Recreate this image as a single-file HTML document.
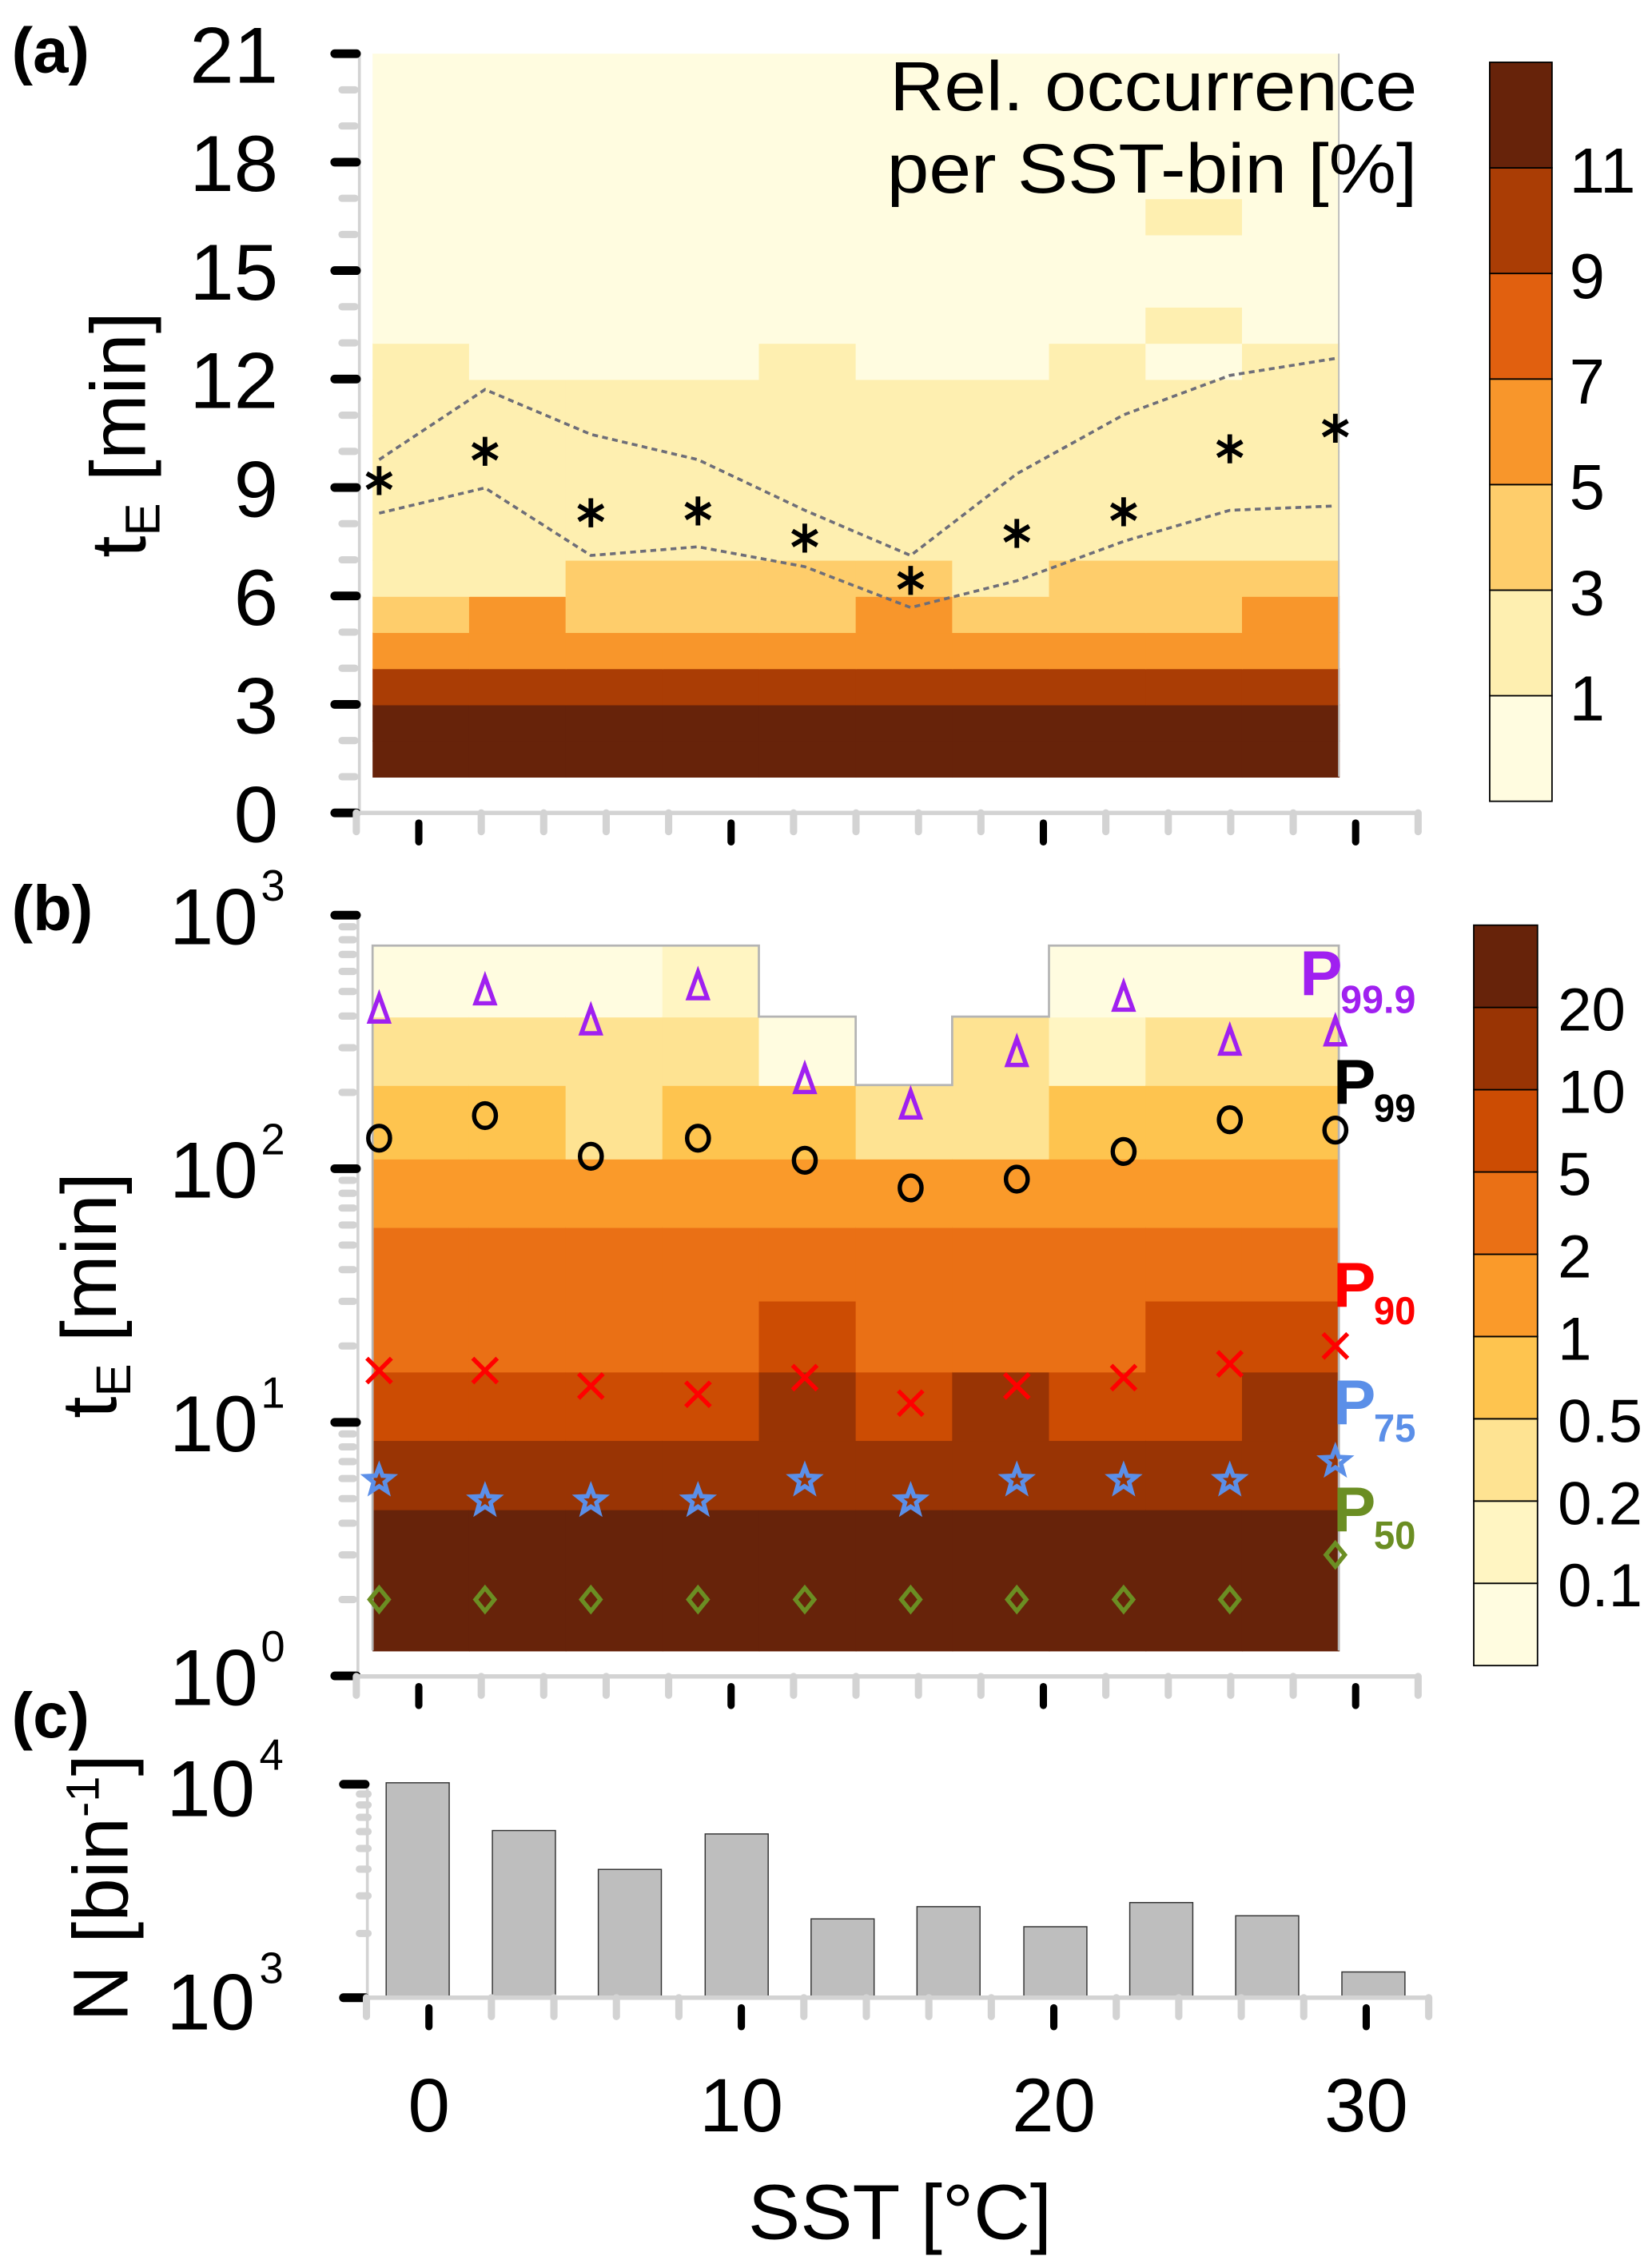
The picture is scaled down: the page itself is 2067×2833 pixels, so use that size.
<!DOCTYPE html>
<html><head><meta charset="utf-8"><title>SST occurrence chart</title>
<style>
html,body{margin:0;padding:0;background:#fff;}
svg{display:block;font-family:"Liberation Sans",sans-serif;}
</style></head>
<body>
<svg id="fig" xmlns="http://www.w3.org/2000/svg" width="2067" height="2833" viewBox="0 0 1140 1562.5" preserveAspectRatio="none"></svg>
<script>
// ---------- DATA ----------
const binEdgesSST = [-1.48,1.61,4.70,7.80,10.89,13.99,17.08,20.18,23.27,26.36,29.46];
const occA = [
 [15,15,15,15,15,15,15,15,15,15],
 [15,15,15,15,15,15,15,15,15,15],
 [10,10,10,10,10,10,10,10,10,10],
 [6,6,6,6,6,6,6,6,6,6],
 [4,6,4,4,4,6,4,4,4,6],
 [2,2,4,4,4,4,2,4,4,4],
 [2,2,2,2,2,2,2,2,2,2],
 [2,2,2,2,2,2,2,2,2,2],
 [2,2,2,2,2,2,2,2,2,2],
 [2,2,2,2,2,2,2,2,2,2],
 [2,2,2,2,2,2,2,2,2,2],
 [2,0.5,0.5,0.5,2,0.5,0.5,2,0.5,2],
 [0.5,0.5,0.5,0.5,0.5,0.5,0.5,0.5,2,0.5],
 [0.5,0.5,0.5,0.5,0.5,0.5,0.5,0.5,0.5,0.5],
 [0.5,0.5,0.5,0.5,0.5,0.5,0.5,0.5,0.5,0.5],
 [0.5,0.5,0.5,0.5,0.5,0.5,0.5,0.5,2,0.5],
 [0.5,0.5,0.5,0.5,0.5,0.5,0.5,0.5,0.5,0.5],
 [0.5,0.5,0.5,0.5,0.5,0.5,0.5,0.5,0.5,0.5],
 [0.5,0.5,0.5,0.5,0.5,0.5,0.5,0.5,0.5,0.5],
 [0.5,0.5,0.5,0.5,0.5,0.5,0.5,0.5,0.5,0.5]
];
const markerSST = [-1.27,2.12,5.51,8.94,12.36,15.75,19.15,22.57,25.97,29.35];
const meanTE = [9.19,10.0,8.3,8.35,7.6,6.43,7.73,8.33,10.07,10.64];
const upperTE = [9.77,11.71,10.47,9.77,8.37,7.12,9.38,11.01,12.1,12.57];
const lowerTE = [8.29,8.99,7.12,7.36,6.81,5.68,6.42,7.51,8.37,8.49];
const classA = [1,3,5,7,9,11];
const colorsA = ['#FFFCE0','#FEEFB0','#FECD6B','#F8962B','#E1600F','#AA3D05','#67230A'];
const yTicksA = [0,3,6,9,12,15,18,21];

const rowEdgesLogB = [0.10,0.657,0.93,1.2,1.48,1.77,2.04,2.33,2.6,2.88];
const occB = [
 [30,30,30,30,30,30,30,30,30,30],
 [15,15,15,15,15,15,15,15,15,15],
 [7,7,7,7,15,7,15,7,7,15],
 [3,3,3,3,7,3,3,3,7,7],
 [3,3,3,3,3,3,3,3,3,3],
 [1.5,1.5,1.5,1.5,1.5,1.5,1.5,1.5,1.5,1.5],
 [0.7,0.7,0.35,0.7,0.7,0.35,0.35,0.7,0.7,0.7],
 [0.35,0.35,0.35,0.35,0.08,null,0.35,0.15,0.35,0.35],
 [0.08,0.08,0.08,0.15,null,null,null,0.08,0.08,0.08]
];
const p999 = [423,499,380,523,223,177,285,471,316,344];
const p99 = [132,162,112,132,108,84,91,117,156,142];
const p90 = [16,16,13.9,12.9,15,11.9,13.9,15,17,20];
const p75 = [5.9,4.9,4.9,4.9,5.9,4.9,5.9,5.9,5.9,7];
const p50 = [2,2,2,2,2,2,2,2,2,3];
const classB = [0.1,0.2,0.5,1,2,5,10,20];
const classBLabels = ['0.1','0.2','0.5','1','2','5','10','20'];
const colorsB = ['#FFFCE0','#FFF5C2','#FEE392','#FEC44F','#FA9A2A','#EA7015','#CC4C03','#993404','#67230A'];

const barSST = [-0.36,3.04,6.43,9.85,13.24,16.63,20.05,23.44,26.83,30.23];
const counts = [10160,6070,3990,5850,2340,2670,2150,2790,2420,1320];
const xTickLabels = [0,10,20,30];

// ---------- HELPERS ----------
const svg = document.getElementById('fig');
const NS = 'http://www.w3.org/2000/svg';
function mk(tag, attrs, parent){
  const e = document.createElementNS(NS, tag);
  for (const k in attrs) e.setAttribute(k, attrs[k]);
  (parent||svg).appendChild(e);
  return e;
}
function txt(str, attrs, parent){ const t = mk('text', attrs, parent); t.textContent = str; return t; }

const xA = v => 289 + 21.55*v;
const xC = v => 296 + 21.56*v;
const yA = v => 561 - 24.95*v;
const yBlog = l => 1156.6 - 175*l;
const yB = v => yBlog(Math.log10(v));
const yC = v => 1378.7 - 147.3*(Math.log10(v)-3);
function classColor(v, th, cols){ let i=0; while(i<th.length && v>=th[i]) i++; return cols[i]; }

// ---------- PANEL A ----------
const gA = mk('g', {});


for (let r=0;r<occA.length;r++){
  for (let b=0;b<10;b++){
    const x0=xA(binEdgesSST[b]), x1=xA(binEdgesSST[b+1]);
    const rc = mk('rect',{x:x0,y:yA(r+2),width:x1-x0+0.6,height:yA(r+1)-yA(r+2)+0.6,fill:classColor(occA[r][b],classA,colorsA)},gA);
    
    
  }
}
mk('line',{x1:xA(binEdgesSST[10]),x2:xA(binEdgesSST[10]),y1:yA(21),y2:yA(1),stroke:'#bbb','stroke-width':1},gA);
function poly(arr, name){
  const pts = arr.map((v,i)=>xA(markerSST[i])+','+yA(v)).join(' ');
  const p = mk('polyline',{points:pts,fill:'none',stroke:'#6e6e78','stroke-width':2,'stroke-dasharray':'4,3'},gA);
  
  
}
poly(upperTE,'upper-dashed-line');
poly(lowerTE,'lower-dashed-line');
meanTE.forEach((v,i)=>{
  const cx=xA(markerSST[i]), cy=yA(v), s=10;
  const g = mk('g',{stroke:'#000','stroke-width':3.2},gA);
  
  
  mk('line',{x1:cx,y1:cy-s,x2:cx,y2:cy+s},g);
  mk('line',{x1:cx-s*0.85,y1:cy-s*0.5,x2:cx+s*0.85,y2:cy+s*0.5},g);
  mk('line',{x1:cx-s*0.85,y1:cy+s*0.5,x2:cx+s*0.85,y2:cy-s*0.5},g);
});
function xAxis(y, xf, x0, x1, name){
  const g = mk('g',{});
  
  
  mk('line',{x1:x0,x2:x1,y1:y,y2:y,stroke:'#d3d3d3','stroke-width':3},g);
  for (let v=-2; v<=32; v+=2){
    if (v%10===0) continue;
    mk('line',{x1:xf(v),x2:xf(v),y1:y,y2:y+13,stroke:'#d3d3d3','stroke-width':5,'stroke-linecap':'round'},g);
  }
  xTickLabels.forEach(v=>{
    mk('line',{x1:xf(v),x2:xf(v),y1:y+7,y2:y+20,stroke:'#000','stroke-width':5,'stroke-linecap':'round'},g);
  });
}
function yAxisLine(x, y0, y1, g){ mk('line',{x1:x,x2:x,y1:y0,y2:y1,stroke:'#d3d3d3','stroke-width':2},g); }
const gyA = mk('g',{});


yAxisLine(248, yA(21), yA(0), gyA);
for (let v=0; v<=21; v++){
  if (v%3===0) continue;
  mk('line',{x1:236,x2:245,y1:yA(v),y2:yA(v),stroke:'#d3d3d3','stroke-width':5,'stroke-linecap':'round'},gyA);
}
yTicksA.forEach(v=>{
  mk('line',{x1:231,x2:246,y1:yA(v),y2:yA(v),stroke:'#000','stroke-width':6,'stroke-linecap':'round'},gyA);
  const t = txt(String(v),{x:192,y:yA(v)+20,'font-size':55,'text-anchor':'end',fill:'#000'},gyA);
  
  
});
xAxis(561, xA, 248, 978, 'x-axis-a');
let t;
t = txt('Rel. occurrence',{x:978,y:76,'font-size':48,'text-anchor':'end',textLength:364,lengthAdjust:'spacingAndGlyphs'});
 
t = txt('per SST-bin [%]',{x:978,y:133,'font-size':48,'text-anchor':'end',textLength:366,lengthAdjust:'spacingAndGlyphs'});
 

const cbA = mk('g',{});


const cbAh = (553-43)/colorsA.length;
colorsA.forEach((c,i)=>{
  mk('rect',{x:1028,y:553-(i+1)*cbAh,width:43,height:cbAh,fill:c,stroke:'#000','stroke-width':1},cbA);
});
classA.forEach((v,i)=>{
  const tt = txt(String(v),{x:1083,y:553-(i+1)*cbAh+17,'font-size':44},cbA);
  
  
});

// ---------- PANEL B ----------
const gB = mk('g',{});


const topEdge = [];
for (let b=0;b<10;b++){
  let top=null;
  for (let r=0;r<occB.length;r++){
    if (occB[r][b]===null) continue;
    const x0=xA(binEdgesSST[b]), x1=xA(binEdgesSST[b+1]);
    const y0=yBlog(rowEdgesLogB[r+1]), y1=yBlog(rowEdgesLogB[r]);
    const rc = mk('rect',{x:x0,y:y0,width:x1-x0+0.6,height:y1-y0+0.6,fill:classColor(occB[r][b],classB,colorsB)},gB);
    
    
    top = y0;
  }
  topEdge.push(top);
}
let outline = 'M'+xA(binEdgesSST[0])+','+yBlog(rowEdgesLogB[0])+' L'+xA(binEdgesSST[0])+','+topEdge[0];
for (let b=0;b<10;b++){
  outline += ' L'+xA(binEdgesSST[b])+','+topEdge[b]+' L'+xA(binEdgesSST[b+1])+','+topEdge[b];
}
outline += ' L'+xA(binEdgesSST[10])+','+yBlog(rowEdgesLogB[0]);
mk('path',{d:outline,fill:'none',stroke:'#b4b4b4','stroke-width':1.5},gB);

function markerGroup(name){ const g=mk('g',{},gB);   return g; }
const gTri = markerGroup('p99.9-triangles');
p999.forEach((v,i)=>{ const x=xA(markerSST[i]), y=yB(v);
  mk('path',{d:`M${x},${y-10} L${x+6.5},${y+8} L${x-6.5},${y+8} Z`,fill:'none',stroke:'#A020F0','stroke-width':3},gTri); });
const gCir = markerGroup('p99-circles');
p99.forEach((v,i)=>{ mk('ellipse',{cx:xA(markerSST[i]),cy:yB(v),rx:7.5,ry:8.5,fill:'none',stroke:'#000','stroke-width':3},gCir); });
const gX = markerGroup('p90-crosses');
p90.forEach((v,i)=>{ const x=xA(markerSST[i]), y=yB(v), s=8.5;
  mk('path',{d:`M${x-s},${y-s} L${x+s},${y+s} M${x-s},${y+s} L${x+s},${y-s}`,stroke:'#FF0000','stroke-width':3},gX); });
const gStar = markerGroup('p75-stars');
p75.forEach((v,i)=>{ const x=xA(markerSST[i]), y=yB(v); let d='';
  for (let k=0;k<10;k++){ const a=-Math.PI/2+k*Math.PI/5, r=k%2?4:9.5; d+=(k?'L':'M')+(x+r*Math.cos(a)).toFixed(2)+','+(y+r*Math.sin(a)).toFixed(2); }
  mk('path',{d:d+'Z',fill:'none',stroke:'#5B8FE8','stroke-width':3},gStar); });
const gDia = markerGroup('p50-diamonds');
p50.forEach((v,i)=>{ const x=xA(markerSST[i]), y=yB(v);
  mk('path',{d:`M${x},${y-8} L${x+6.5},${y} L${x},${y+8} L${x-6.5},${y} Z`,fill:'none',stroke:'#6B8E23','stroke-width':3},gDia); });

function pLabel(sub, x, y, col, name, subW){
  const g = mk('g',{fill:col,'font-weight':'bold'},gB);
  
  
  txt('P',{x:x,y:y,'font-size':44},g);
  txt(sub,{x:x+28,y:y+12,'font-size':27,textLength:subW,lengthAdjust:'spacingAndGlyphs'},g);
}
pLabel('99.9',897,687,'#A020F0','label-p99.9',52);
pLabel('99',920,762,'#000','label-p99',29);
pLabel('90',920,902,'#FF0000','label-p90',29);
pLabel('75',920,983,'#5B8FE8','label-p75',29);
pLabel('50',920,1057,'#6B8E23','label-p50',29);

const gyB = mk('g',{});


yAxisLine(247, yBlog(3), yBlog(0), gyB);
for (let d=0; d<3; d++) for (let m=2;m<=9;m++){
  const y=yB(m*Math.pow(10,d));
  mk('line',{x1:236,x2:244,y1:y,y2:y,stroke:'#d3d3d3','stroke-width':5,'stroke-linecap':'round'},gyB);
}
for (let d=0; d<=3; d++){
  const y=yBlog(d);
  mk('line',{x1:231,x2:246,y1:y,y2:y,stroke:'#000','stroke-width':6,'stroke-linecap':'round'},gyB);
  const tt = txt('10',{x:178,y:y+20,'font-size':55,'text-anchor':'end'},gyB);
   
  txt(String(d),{x:180,y:y-10,'font-size':30},gyB);
}
xAxis(1157, xA, 247, 980, 'x-axis-b');

const cbB = mk('g',{});


const cbBh = (1149.5-638.5)/colorsB.length;
colorsB.forEach((c,i)=>{
  mk('rect',{x:1017,y:1149.5-(i+1)*cbBh,width:44,height:cbBh,fill:c,stroke:'#000','stroke-width':1},cbB);
});
classBLabels.forEach((v,i)=>{
  const tt = txt(v,{x:1075,y:1149.5-(i+1)*cbBh+16,'font-size':42},cbB);
  
  
});

// ---------- PANEL C ----------
const gC = mk('g',{});


counts.forEach((v,i)=>{
  const xc = xC(barSST[i]), w=43.5, y=yC(v);
  const r = mk('rect',{x:xc-w/2,y:y,width:w,height:yC(1000)-y,fill:'#BEBEBE',stroke:'#333','stroke-width':0.8},gC);
  
  
});
const gyC = mk('g',{});


yAxisLine(253.5, yC(10000), yC(1000), gyC);
for (let m=2;m<=9;m++){
  const y=yC(m*1000);
  mk('line',{x1:248,x2:254,y1:y,y2:y,stroke:'#d3d3d3','stroke-width':5,'stroke-linecap':'round'},gyC);
}
[3,4].forEach(d=>{
  const y=yC(Math.pow(10,d));
  mk('line',{x1:237,x2:252,y1:y,y2:y,stroke:'#000','stroke-width':6,'stroke-linecap':'round'},gyC);
  const tt = txt('10',{x:176,y:y+22,'font-size':55,'text-anchor':'end'},gyC);
   
  txt(String(d),{x:179,y:y-10,'font-size':30},gyC);
});
xAxis(1378.7, xC, 253, 985, 'x-axis-c');
xTickLabels.forEach(v=>{
  const tt = txt(String(v),{x:xC(v),y:1471,'font-size':52,'text-anchor':'middle'});
  
  
});

// ---------- TITLES ----------
t = txt('SST [°C]',{x:621,y:1545,'font-size':54,'text-anchor':'middle'});
 
function yTitle(x,y,main,sub,after,name){
  const g = mk('text',{transform:`translate(${x},${y}) rotate(-90)`,'font-size':54,'text-anchor':'middle'});
  
  
  const a=mk('tspan',{},g); a.textContent=main;
  if (sub){ const s=mk('tspan',{'font-size':34,dy:10},g); s.textContent=sub; const b=mk('tspan',{dy:-10},g); b.textContent=after; }
}
yTitle(100,300,'t','E',' [min]','y-axis-title-a');
yTitle(80,894,'t','E',' [min]','y-axis-title-b');
const tc = mk('text',{transform:'translate(88,1303) rotate(-90)','font-size':54,'text-anchor':'middle'});


const tc1=mk('tspan',{},tc); tc1.textContent='N [bin';
const tc2=mk('tspan',{'font-size':32,dy:-20},tc); tc2.textContent='-1';
const tc3=mk('tspan',{dy:20},tc); tc3.textContent=']';

[['(a)',50,'panel-label-a'],['(b)',642,'panel-label-b'],['(c)',1199,'panel-label-c']].forEach(p=>{
  const tt = txt(p[0],{x:8,y:p[1],'font-size':44,'font-weight':'bold'});
  
  
});
</script>
</body></html>
